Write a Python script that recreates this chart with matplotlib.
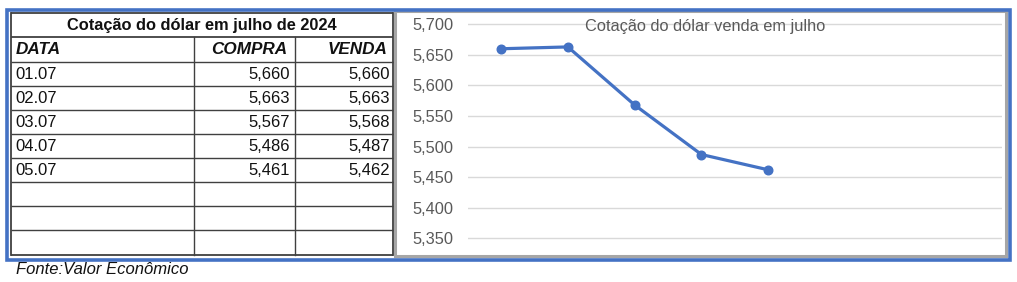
import matplotlib
matplotlib.use("Agg")
import matplotlib.pyplot as plt
from matplotlib.ticker import FuncFormatter

plt.rcParams['font.family'] = ['Liberation Sans', 'DejaVu Sans']

table_title = "Cotação do dólar em julho de 2024"
headers = ["DATA", "COMPRA", "VENDA"]
dates = ["01.07", "02.07", "03.07", "04.07", "05.07"]
compra = [5.660, 5.663, 5.567, 5.486, 5.461]
venda = [5.660, 5.663, 5.568, 5.487, 5.462]
n_rows = 8
chart_title = "Cotação do dólar venda em julho"
source = "Fonte:Valor Econômico"
yticks = [5.35, 5.40, 5.45, 5.50, 5.55, 5.60, 5.65, 5.70]

W, H = 1017, 282
fig = plt.figure(figsize=(W / 100, H / 100), dpi=100)
fig.patch.set_facecolor("white")

bg = fig.add_axes([0, 0, 1, 1])
bg.set_xlim(0, W)
bg.set_ylim(H, 0)
bg.axis("off")

def fmt(v):
    return f"{v:.3f}".replace(".", ",")

# chart gray frame
bg.add_patch(plt.Rectangle((394.5, 11), 611, 245, fill=False, edgecolor="#A6A6A6", lw=2.2))
# blue outer border
bg.add_patch(plt.Rectangle((6.5, 9.5), 1003, 250, fill=False, edgecolor="#4472C4", lw=2.6))

# table
x0, x1, x2, x3 = 11, 194.3, 294.7, 392.7
row_h = 24.13
ytop = 13.3
lc = "#404040"
n_total = 2 + n_rows
ybot = ytop + n_total * row_h
for i in range(n_total + 1):
    y = ytop + i * row_h
    bg.plot([x0, x3], [y, y], color=lc, lw=1.3 if i in (0, 1, n_total) else 1.0, solid_capstyle="butt")
bg.plot([x0, x0], [ytop, ybot], color=lc, lw=1.3)
bg.plot([x3, x3], [ytop, ybot], color=lc, lw=1.3)
for xc in (x1, x2):
    bg.plot([xc, xc], [ytop + row_h, ybot], color=lc, lw=1.0)

tc = "#111111"
bg.text((x0 + x3) / 2, ytop + row_h / 2 + 0.5, table_title, ha="center", va="center",
        fontsize=11.8, fontweight="bold", color=tc)
yh = ytop + 1.5 * row_h + 0.5
hfs = 12.3
bg.text(x0 + 5, yh, headers[0], ha="left", va="center", fontsize=hfs,
        fontweight="bold", fontstyle="italic", color=tc)
bg.text(x2 - 7.5, yh, headers[1], ha="right", va="center", fontsize=hfs,
        fontweight="bold", fontstyle="italic", color=tc)
bg.text(x3 - 5, yh, headers[2], ha="right", va="center", fontsize=hfs,
        fontweight="bold", fontstyle="italic", color=tc)
for i, (d, c, v) in enumerate(zip(dates, compra, venda)):
    yy = ytop + (2.5 + i) * row_h + 0.5
    bg.text(x0 + 4, yy, d, ha="left", va="center", fontsize=12, color=tc)
    bg.text(x2 - 4.5, yy, fmt(c), ha="right", va="center", fontsize=12, color=tc)
    bg.text(x3 - 2.5, yy, fmt(v), ha="right", va="center", fontsize=12, color=tc)

bg.text(15.5, 269.5, source, ha="left", va="center", fontsize=12, fontstyle="italic", color=tc)

# chart
px_per_unit = (238.3 - 24.3) / 0.35
ax_left, ax_right = 467.7, 1002
ax_top_px, ax_bot_px = 13, 254
ymax = 5.70 + (24.3 - ax_top_px) / px_per_unit
ymin = 5.35 - (ax_bot_px - 238.3) / px_per_unit
ax = fig.add_axes([ax_left / W, (H - ax_bot_px) / H, (ax_right - ax_left) / W,
                   (ax_bot_px - ax_top_px) / H])
ax.patch.set_alpha(0)
ax.set_xlim(-0.5, n_rows - 0.5)
ax.set_ylim(ymin, ymax)
for s in ax.spines.values():
    s.set_visible(False)
ax.set_yticks(yticks)
ax.yaxis.set_major_formatter(FuncFormatter(lambda v, p: fmt(v)))
ax.tick_params(axis="y", length=0, pad=10.5, labelsize=11.8, labelcolor="#595959")
ax.set_xticks([])
ax.grid(axis="y", color="#D9D9D9", lw=1.0)
ax.set_axisbelow(True)
ax.plot(range(len(venda)), venda, color="#4472C4", lw=2.3, marker="o", markersize=6.2,
        solid_capstyle="round")
ax.text(704.7, 26, chart_title, transform=bg.transData, ha="center", va="center",
        fontsize=11.8, color="#595959")

fig.savefig("out.png", dpi=100)
